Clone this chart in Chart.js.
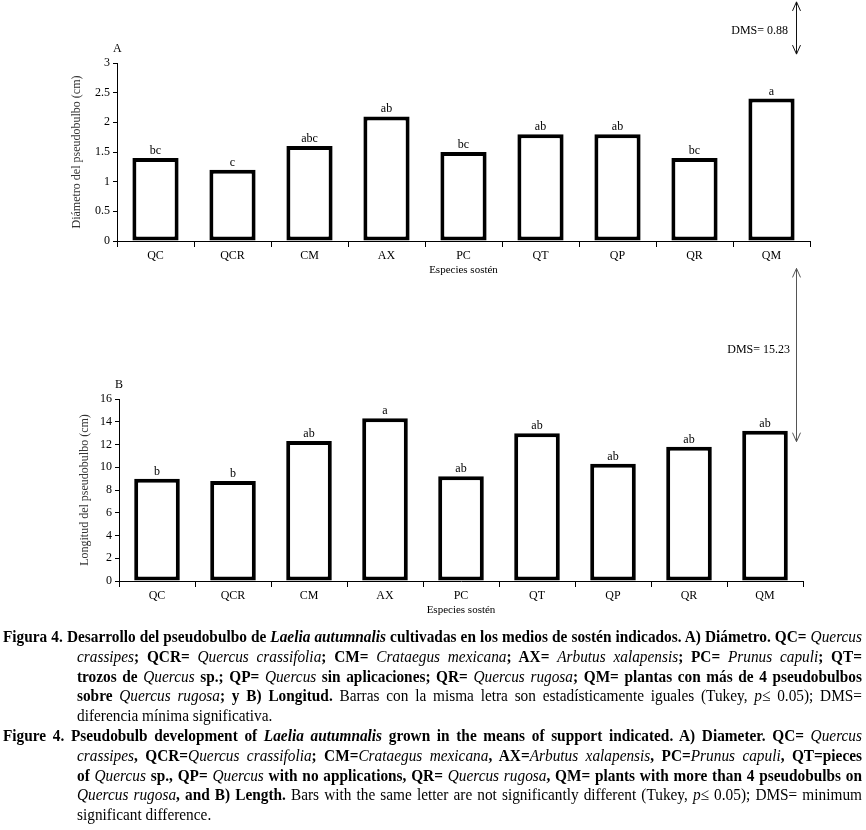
<!DOCTYPE html>
<html>
<head>
<meta charset="utf-8">
<script src="https://cdn.jsdelivr.net/npm/chart.js@4.4.1/dist/chart.umd.min.js"></script>
<style>
body { margin: 0; background: #fff; }
#wrap { position: relative; width: 866px; height: 830px; overflow: hidden; background: #fff; }
canvas { position: absolute; left: 0; }
#chartA { top: 0; }
#chartB { top: 262px; }
#cap { position: absolute; left: 3px; top: 627px; width: 3000px; font-family: "Liberation Serif", serif; font-size: 17px; line-height: 19.8px; color: #000; transform-origin: 0 0; }
#cap .ln { white-space: nowrap; text-align: left; }
#cap.fit .ln { text-align: justify; text-align-last: justify; }
#cap.fit .ln.last { text-align-last: left; }
#cap i { font-weight: normal; }
#cap b i { font-weight: bold; }
</style>
</head>
<body>
<div id="wrap">
  <canvas id="chartA" width="866" height="285"></canvas>
  <canvas id="chartB" width="866" height="363"></canvas>
  <div id="cap">
    <div class="ln"><span><b>Figura 4. Desarrollo del pseudobulbo de <i>Laelia autumnalis</i> cultivadas en los medios de sostén indicados. A) Diámetro. QC= </b><i>Quercus</i></span></div>
    <div class="ln in"><span><i>crassipes</i><b>; QCR= </b><i>Quercus crassifolia</i><b>; CM= </b><i>Crataegus mexicana</i><b>; AX= </b><i>Arbutus xalapensis</i><b>; PC= </b><i>Prunus capuli</i><b>; QT=</b></span></div>
    <div class="ln in"><span><b>trozos de </b><i>Quercus</i><b> sp.; QP= </b><i>Quercus</i><b> sin aplicaciones; QR= </b><i>Quercus rugosa</i><b>; QM= plantas con más de 4 pseudobulbos</b></span></div>
    <div class="ln in"><span><b>sobre </b><i>Quercus rugosa</i><b>; y B) Longitud.</b> Barras con la misma letra son estadísticamente iguales (Tukey, <i>p</i>≤ 0.05); DMS=</span></div>
    <div class="ln in last"><span>diferencia mínima significativa.</span></div>
    <div class="ln"><span><b>Figure 4. Pseudobulb development of <i>Laelia autumnalis</i> grown in the means of support indicated. A) Diameter. QC= </b><i>Quercus</i></span></div>
    <div class="ln in"><span><i>crassipes</i><b>, QCR=</b><i>Quercus crassifolia</i><b>; CM=</b><i>Crataegus mexicana</i><b>, AX=</b><i>Arbutus xalapensis</i><b>, PC=</b><i>Prunus capuli</i><b>, QT=pieces</b></span></div>
    <div class="ln in"><span><b>of </b><i>Quercus</i><b> sp., QP= </b><i>Quercus</i><b> with no applications, QR= </b><i>Quercus rugosa</i><b>, QM= plants with more than 4 pseudobulbs on</b></span></div>
    <div class="ln in"><span><i>Quercus rugosa</i><b>, and B) Length.</b> Bars with the same letter are not significantly different (Tukey, <i>p</i>≤ 0.05); DMS= minimum</span></div>
    <div class="ln in last"><span>significant difference.</span></div>
  </div>
</div>
<script>
// data
const categories = ['QC', 'QCR', 'CM', 'AX', 'PC', 'QT', 'QP', 'QR', 'QM'];
const diametro = [1.4, 1.2, 1.6, 2.1, 1.5, 1.8, 1.8, 1.4, 2.4];
const longitud = [9.0, 8.8, 12.3, 14.3, 9.2, 13.0, 10.3, 11.8, 13.2];
const letrasA = ['bc', 'c', 'abc', 'ab', 'bc', 'ab', 'ab', 'bc', 'a'];
const letrasB = ['b', 'b', 'ab', 'a', 'ab', 'ab', 'ab', 'ab', 'ab'];
const ticksA = [0, 0.5, 1, 1.5, 2, 2.5, 3];
const ticksB = [0, 2, 4, 6, 8, 10, 12, 14, 16];
const dmsA = 0.88;
const dmsB = 15.23;

const family = '"Liberation Serif", "Times New Roman", serif';

//letters over bars, panel letter and DMS arrow
const extrasPlugin = {
    id: 'extras',
    afterDatasetsDraw(chart, args, opts) {
        const ctx = chart.ctx;
        const area = chart.chartArea;
        const yScale = chart.scales.y;
        const meta = chart.getDatasetMeta(0);
        ctx.save();
        ctx.fillStyle = '#000';
        ctx.font = '12px ' + family;
        ctx.textAlign = 'center';
        ctx.textBaseline = 'alphabetic';
        meta.data.forEach((bar, i) => {
            ctx.fillText(opts.letters[i], bar.x, bar.y - 4);
        });

        ctx.textAlign = 'left';
        ctx.textBaseline = 'middle';
        ctx.fillText(opts.panel, area.left - 4, area.top - 14);

        const yTop = yScale.getPixelForValue(opts.dmsBase + opts.dms);
        const yBot = yScale.getPixelForValue(opts.dmsBase);
        const x = opts.arrowX + 0.5;
        ctx.strokeStyle = opts.arrowColor;
        ctx.lineWidth = 1;
        ctx.beginPath();
        ctx.moveTo(x, yTop);
        ctx.lineTo(x, yBot);
        ctx.moveTo(x - 4, yTop + 9);
        ctx.lineTo(x, yTop);
        ctx.lineTo(x + 4, yTop + 9);
        ctx.moveTo(x - 4, yBot - 9);
        ctx.lineTo(x, yBot);
        ctx.lineTo(x + 4, yBot - 9);
        ctx.stroke();

        ctx.textAlign = 'right';
        ctx.fillText('DMS= ' + opts.dms, opts.labelX, opts.labelY);
        ctx.restore();
    }
};

function makeChart(id, values, p) {
    return new Chart(document.getElementById(id), {
        type: 'bar',
        data: {
            labels: categories,
            datasets: [{
                data: values,
                backgroundColor: '#fff',
                borderColor: '#000',
                borderWidth: 4,
                borderSkipped: false,
                categoryPercentage: 0.6,
                barPercentage: 1
            }]
        },
        options: {
            responsive: false,
            animation: false,
            events: [],
            layout: { padding: p.padding },
            plugins: {
                legend: { display: false },
                tooltip: { enabled: false },
                extras: p.extras
            },
            scales: {
                x: {
                    grid: { offset: true, drawOnChartArea: false, drawTicks: true, tickLength: 6, color: '#000', lineWidth: 1 },
                    border: { display: true, color: '#000', width: 1 },
                    ticks: { color: '#000', font: { family: family, size: 12 }, padding: 2, maxRotation: 0, autoSkip: false },
                    title: { display: true, text: 'Especies sostén', color: '#000', font: { family: family, size: 11 }, padding: { top: 0, bottom: 8 } },
                    afterFit: s => { s.height = 44; }
                },
                y: {
                    min: 0,
                    max: p.ticks[p.ticks.length - 1],
                    afterBuildTicks: s => { s.ticks = p.ticks.map(v => ({ value: v })); },
                    grid: { drawOnChartArea: false, drawTicks: true, tickLength: 4, color: '#000' },
                    border: { display: true, color: '#000', width: 1 },
                    ticks: { color: '#000', font: { family: family, size: 12 }, padding: 3, callback: v => String(v) },
                    title: { display: true, text: p.ytitle, color: '#333', font: { family: family, size: 12 }, padding: { top: 6, bottom: 0 } },
                    afterFit: s => { s.width = p.yWidth; }
                }
            }
        },
        plugins: [extrasPlugin]
    });
}

makeChart('chartA', diametro, {
    padding: { left: 64, right: 56, top: 63, bottom: 0 },
    yWidth: 53,
    ticks: ticksA,
    ytitle: 'Diámetro del pseudobulbo (cm)',
    extras: { letters: letrasA, panel: 'A', dms: dmsA, dmsBase: 3.15, arrowX: 796, arrowColor: '#111', labelX: 788, labelY: 31 }
});

makeChart('chartB', longitud, {
    padding: { left: 72, right: 63, top: 137, bottom: 0 },
    yWidth: 47,
    ticks: ticksB,
    ytitle: 'Longitud del pseudobulbo (cm)',
    extras: { letters: letrasB, panel: 'B', dms: dmsB, dmsBase: 12.25, arrowX: 796, arrowColor: '#555', labelX: 790, labelY: 88 }
});

//squeeze the caption so each line fits like the printed figure
function fitCaption() {
    const cap = document.getElementById('cap');
    const full = 859, indent = 74;
    let s = 1;
    cap.querySelectorAll('.ln').forEach(ln => {
        const w = ln.querySelector('span').getBoundingClientRect().width;
        const avail = ln.classList.contains('in') ? full - indent : full;
        s = Math.min(s, avail / w);
    });
    s *= 0.995;
    cap.style.width = (full / s) + 'px';
    cap.querySelectorAll('.ln.in').forEach(ln => { ln.style.paddingLeft = (indent / s) + 'px'; });
    cap.style.transform = 'scaleX(' + s + ')';
    cap.classList.add('fit');
}
fitCaption();
</script>
</body>
</html>
